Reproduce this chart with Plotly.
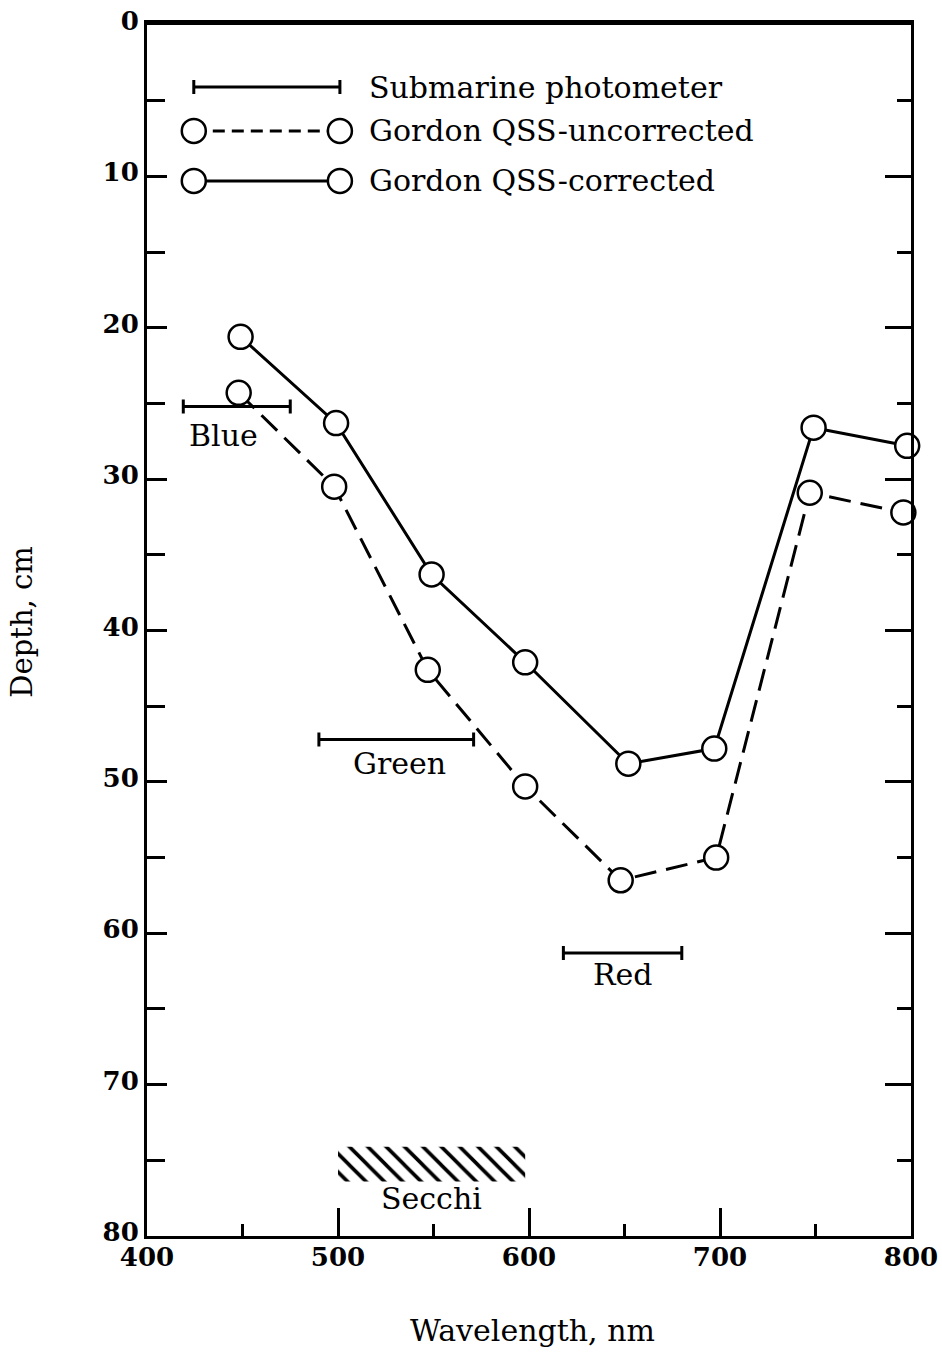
import plotly.graph_objects as go

# ---- data ----
wl_corrected = [449, 499, 549, 598, 652, 697, 749, 798]
depth_corrected = [20.6, 26.3, 36.3, 42.1, 48.8, 47.8, 26.6, 27.8]
wl_uncorrected = [448, 498, 547, 598, 648, 698, 747, 796]
depth_uncorrected = [24.3, 30.5, 42.6, 50.3, 56.5, 55.0, 30.9, 32.2]

photo_names = ["Blue", "Green", "Red"]
photo_lo = [419, 490, 618]
photo_hi = [475, 571, 680]
photo_depth = [25.2, 47.2, 61.3]

secchi_lo, secchi_hi = 500, 598
secchi_top, secchi_bot = 74.1, 76.4

x_ticks = [400, 500, 600, 700, 800]
y_ticks = [0, 10, 20, 30, 40, 50, 60, 70, 80]

# ---- style ----
SERIF = "DejaVu Serif"
BLACK = "black"
FS = 30

fig = go.Figure()

# Secchi hatch
fig.add_trace(go.Scatter(
    x=[secchi_lo, secchi_hi, secchi_hi, secchi_lo, secchi_lo],
    y=[secchi_top, secchi_top, secchi_bot, secchi_bot, secchi_top],
    mode="lines", fill="toself", line=dict(width=0, color="rgba(0,0,0,0)"),
    fillcolor="white",
    fillpattern=dict(shape="\\", size=13, solidity=0.28, fgcolor=BLACK, fgopacity=1,
                     bgcolor="white"),
    showlegend=False, hoverinfo="skip"))

# photometer bars
for name, lo, hi, d in zip(photo_names, photo_lo, photo_hi, photo_depth):
    c = (lo + hi) / 2
    fig.add_trace(go.Scatter(
        x=[c], y=[d], mode="markers", marker=dict(size=1, color=BLACK),
        error_x=dict(type="data", symmetric=True, array=[(hi - lo) / 2],
                     color=BLACK, thickness=3, width=7),
        showlegend=False, hoverinfo="skip"))

marker_style = dict(symbol="circle", size=24, color="white", line=dict(color=BLACK, width=2.5))

fig.add_trace(go.Scatter(
    x=wl_uncorrected, y=depth_uncorrected, mode="lines+markers",
    line=dict(color=BLACK, width=3, dash="22px,10px"), marker=marker_style,
    cliponaxis=False, showlegend=False))
fig.add_trace(go.Scatter(
    x=wl_corrected, y=depth_corrected, mode="lines+markers",
    line=dict(color=BLACK, width=3), marker=marker_style,
    cliponaxis=False, showlegend=False))

# custom legend keys
LEG_X0, LEG_X1, LEG_TX = 424.5, 501, 515
LEG_Y = [4.1, 7.0, 10.3]
fig.add_trace(go.Scatter(
    x=[(LEG_X0 + LEG_X1) / 2], y=[LEG_Y[0]], mode="markers", marker=dict(size=1, color=BLACK),
    error_x=dict(type="data", array=[(LEG_X1 - LEG_X0) / 2], color=BLACK, thickness=3, width=7),
    showlegend=False, hoverinfo="skip"))
fig.add_trace(go.Scatter(
    x=[LEG_X0, LEG_X1], y=[LEG_Y[1]] * 2, mode="lines+markers",
    line=dict(color=BLACK, width=3, dash="12px,7px"), marker=marker_style,
    showlegend=False, hoverinfo="skip"))
fig.add_trace(go.Scatter(
    x=[LEG_X0, LEG_X1], y=[LEG_Y[2]] * 2, mode="lines+markers",
    line=dict(color=BLACK, width=3), marker=marker_style,
    showlegend=False, hoverinfo="skip"))

legend_texts = ["Submarine photometer", "Gordon QSS-uncorrected", "Gordon QSS-corrected"]
annots = []
for t, yy in zip(legend_texts, LEG_Y):
    annots.append(dict(x=LEG_TX, y=yy, text=t, xanchor="left", yanchor="middle",
                       showarrow=False, font=dict(family=SERIF, size=FS, color=BLACK)))

label_pos = {"Blue": (440, 27.1), "Green": (532, 48.8), "Red": (649, 62.7), "Secchi": (549, 77.5)}
for t, (xx, yy) in label_pos.items():
    annots.append(dict(x=xx, y=yy, text=t, xanchor="center", yanchor="middle",
                       showarrow=False, font=dict(family=SERIF, size=FS, color=BLACK)))

annots.append(dict(xref="paper", yref="paper", x=-0.164, y=0.507, text="Depth, cm",
                   textangle=-90, showarrow=False, xanchor="center", yanchor="middle",
                   font=dict(family=SERIF, size=29, color=BLACK)))
annots.append(dict(xref="paper", yref="paper", x=0.505, y=-0.078, text="Wavelength, nm",
                   showarrow=False, xanchor="center", yanchor="middle",
                   font=dict(family=SERIF, size=FS, color=BLACK)))

tickfont = dict(family=SERIF, size=26, color=BLACK, weight="bold")

fig.update_layout(
    width=942, height=1352,
    margin=dict(l=147, r=31, t=25, b=116),
    paper_bgcolor="white", plot_bgcolor="white",
    showlegend=False,
    annotations=annots,
    xaxis=dict(range=[400, 800], tickvals=x_ticks, ticktext=[str(v) for v in x_ticks],
               ticks="inside", ticklen=28, tickwidth=2.5, tickcolor=BLACK,
               minor=dict(dtick=50, tick0=400, ticks="inside", ticklen=12, tickwidth=2.5, tickcolor=BLACK),
               showline=True, linewidth=3, linecolor=BLACK, showgrid=False, zeroline=False,
               tickfont=tickfont, automargin=False, ticklabelstandoff=-4,
               ticklabeloverflow="allow"),
    xaxis2=dict(range=[400, 800], overlaying="x", side="top", showticklabels=False,
                ticks="", showline=True, linewidth=5, linecolor=BLACK, showgrid=False,
                zeroline=False, matches="x", automargin=False),
    yaxis=dict(range=[80, 0], tickvals=y_ticks, ticktext=[str(v) for v in y_ticks],
               ticks="inside", ticklen=20, tickwidth=2.5, tickcolor=BLACK,
               minor=dict(dtick=5, tick0=0, ticks="inside", ticklen=18, tickwidth=2.5, tickcolor=BLACK),
               showline=True, linewidth=3, linecolor=BLACK, showgrid=False, zeroline=False,
               tickfont=tickfont, automargin=False, ticklabelshift=4,
               ticklabeloverflow="allow"),
    yaxis2=dict(range=[80, 0], overlaying="y", side="right", showticklabels=False,
                tickvals=y_ticks, ticks="inside", ticklen=26, tickwidth=2.5, tickcolor=BLACK,
                minor=dict(dtick=5, tick0=0, ticks="inside", ticklen=14, tickwidth=2.5, tickcolor=BLACK),
                showline=True, linewidth=3, linecolor=BLACK, showgrid=False, zeroline=False,
                automargin=False),
)

# dummy trace to activate overlay axes
fig.add_trace(go.Scatter(x=[400], y=[0], xaxis="x2", yaxis="y2", mode="markers",
                         marker=dict(size=0.1, opacity=0), showlegend=False, hoverinfo="skip"))

fig.write_html("out.html", config={"displayModeBar": False},
               post_script="document.body.style.margin='0';document.body.style.overflow='hidden';")
